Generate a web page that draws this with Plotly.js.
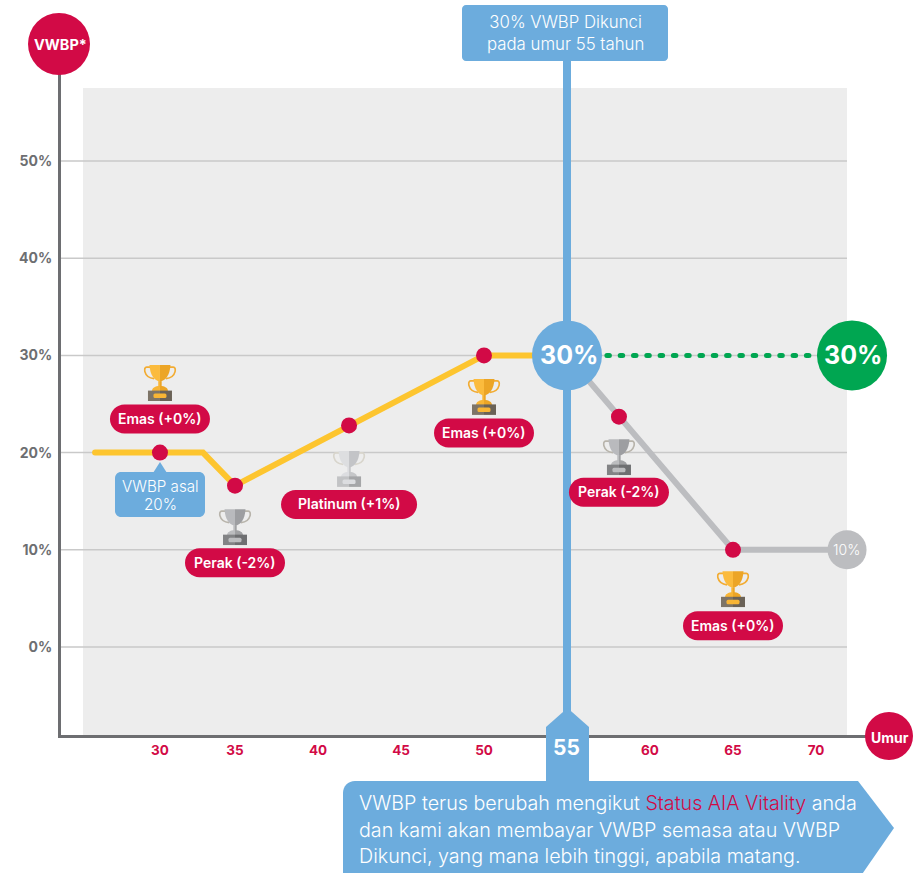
<!DOCTYPE html>
<html><head><meta charset="utf-8">
<script src="https://cdn.plot.ly/plotly-3.0.1.min.js"></script>
<style>html,body{margin:0;padding:0;background:#fff;overflow:hidden}
.scatterlayer .js-line{stroke-linecap:round !important}</style>
</head><body><div id="chart" style="width:922px;height:873px"></div>
<script>
// ---- data ----
const xTickVals   = [30.48, 35, 40, 45, 50, 60, 65, 70];
const xTickLabels = ['30','35','40','45','50','60','65','70'];
const yTickVals   = [0, 10, 20, 30, 40, 50];
const yTickLabels = ['0%','10%','20%','30%','40%','50%'];
const lockedAge   = 55;
const lockedPct   = 30;

const yellowX = [26.57, 30.48, 33.07, 35, 41.87, 50, 55];
const yellowY = [20, 20, 20, 16.6, 22.8, 30, 30];
const greyX   = [55, 58.13, 65, 71.87];
const greyY   = [30, 23.7, 10, 10];
const greenX  = [55, 72.17];
const greenY  = [30, 30];

const statusX = [30.48, 35, 41.87, 50, 58.13, 65];
const statusY = [20, 16.6, 22.8, 30, 23.7, 10];
const statusLabels = ['Emas (+0%)','Perak (-2%)','Platinum (+1%)','Emas (+0%)','Perak (-2%)','Emas (+0%)'];
const statusKinds  = ['gold','silver','platinum','gold','silver','gold'];

// ---- geometry / style ----
const W = 922, H = 873;
const L = 61, R = 870, T = 44, B = 735;
const RED='#d20a46', BLUE='#6cacdd', YEL='#fdc52f', GREY='#bcbdc0', GREEN='#00a651', AX='#6d6e71';
const FONT='Inter, Roboto, sans-serif';
const PX = 16.6, PY = 9.72;
const xRange = [40+(L-318)/PX, 40+(R-318)/PX];
const yRange = [(647-B)/PY, (647-T)/PY];
const px = x => (x-L)/(R-L);
const py = y => (B-y)/(B-T);
const xPix = v => 318+(v-40)*PX;
const yPix = v => 647-v*PY;

function pathOf(pts){
  return pts.map(p=>{
    if(p[0]==='Z') return 'Z';
    if(p[0]==='C') return `C ${px(p[1])} ${py(p[2])} ${px(p[3])} ${py(p[4])} ${px(p[5])} ${py(p[6])}`;
    return `${p[0]} ${px(p[1])} ${py(p[2])}`;
  }).join(' ');
}
function rrect(x0,y0,x1,y1,r){
  const k=r*0.448;
  return pathOf([['M',x0+r,y0],['L',x1-r,y0],['C',x1-k,y0,x1,y0+k,x1,y0+r],['L',x1,y1-r],['C',x1,y1-k,x1-k,y1,x1-r,y1],
    ['L',x0+r,y1],['C',x0+k,y1,x0,y1-k,x0,y1-r],['L',x0,y0+r],['C',x0,y0+k,x0+k,y0,x0+r,y0],['Z']]);
}
const pshape=(path,fill,layer)=>({type:'path',xref:'paper',yref:'paper',path,fillcolor:fill,line:{width:0},layer:layer||'above'});
const circ=(cx,cy,r,fill)=>({type:'circle',xref:'paper',yref:'paper',x0:px(cx-r),x1:px(cx+r),y0:py(cy+r),y1:py(cy-r),fillcolor:fill,line:{width:0},layer:'above'});
const text=(t,x,y,size,color,weight,opt)=>Object.assign({text:t,xref:'paper',yref:'paper',x:px(x),y:py(y),showarrow:false,
  xanchor:'center',yanchor:'middle',font:{family:FONT,size,color,weight},borderpad:0},opt||{});
const dataText=(t,x,y,size,weight,xshift)=>({text:t,xref:'x',yref:'y',x,y,showarrow:false,xanchor:'center',yanchor:'middle',
  xshift:xshift||0,font:{family:FONT,size,color:'#fff',weight},borderpad:0});

function trophySvg(a,b,h,base,plate,stemA,stemB){
  const s=`<svg xmlns="http://www.w3.org/2000/svg" width="66" height="74" viewBox="0 0 33 37">
<path d="M8 3H3.2C1.5 3 .8 5 1.4 7.5 2.4 11.5 6 14 10.5 14.5" fill="none" stroke="${h}" stroke-width="1.7"/>
<path d="M25 3h4.8c1.7 0 2.4 2 1.8 4.5C30.6 11.5 27 14 22.5 14.5" fill="none" stroke="${h}" stroke-width="1.7"/>
<path d="M6 1h10.5v16.5C11 17 6.5 11 6 1z" fill="${a}"/>
<path d="M27 1h-10.5v16.5C22 17 26.5 11 27 1z" fill="${b}"/>
<rect x="14.8" y="17" width="1.7" height="6" fill="${stemA}"/><rect x="16.5" y="17" width="1.7" height="6" fill="${stemB}"/>
<path d="M8.5 27c0-3 3-5 8-5V27z" fill="${stemA}"/><path d="M24.5 27c0-3-3-5-8-5V27z" fill="${stemB}"/>
<rect x="4.5" y="26.5" width="12" height="10.5" fill="${base}"/><rect x="16.5" y="26.5" width="12" height="10.5" fill="${plate}"/>
<rect x="10" y="29.5" width="13" height="4.5" rx="1.5" fill="${stemA}"/>
</svg>`;
  return 'data:image/svg+xml;base64,'+btoa(s);
}
const trophies={
  gold:trophySvg('#fbbb3d','#eca526','#f2ac33','#7d7467','#6a6257','#f8b535','#eca526'),
  silver:trophySvg('#b9babd','#9d9ea1','#b8b4ab','#828385','#6e6f71','#bcbdbf','#a0a1a3'),
  platinum:trophySvg('#dddee0','#c3c4c7','#d8d5cc','#c2c3c5','#a5a6a8','#dcdde0','#c5c6c8')
};

const trophyOffset=[-70,41,43,41,40,39];
const pillOffset  =[-33.5,77,79,77.5,75.5,76];
const pillWidth   =[100,100,136,100,100,100];

const shapes=[];
shapes.push(pshape(rrect(83,88,847,B,0.01),'#ededed','below'));
yTickVals.forEach(v=>shapes.push({type:'line',xref:'paper',yref:'y',x0:0,x1:px(847),y0:v,y1:v,line:{color:'#c9c9c9',width:1.5},layer:'below'}));

const annotations=[], images=[];
statusX.forEach((x,i)=>{
  const cx=xPix(x), cy=yPix(statusY[i]);
  const ty=cy+trophyOffset[i], p0=cy+pillOffset[i], w=pillWidth[i];
  shapes.push(pshape(rrect(cx-w/2,p0-14.5,cx+w/2,p0+14.5,14.5),RED));
  annotations.push(text(statusLabels[i],cx,p0-0.5,14,'#fff',600));
  images.push({source:trophies[statusKinds[i]],xref:'paper',yref:'paper',x:px(cx),y:py(ty),sizex:33/(R-L),sizey:37/(B-T),
    xanchor:'center',yanchor:'middle',sizing:'stretch',layer:'above'});
});

shapes.push(circ(59,44,31,RED));
shapes.push(circ(889,736,24,RED));
annotations.push(text('VWBP*',60,44,14.5,'#fff',700));
annotations.push(text('Umur',889.5,737,14,'#fff',700));

shapes.push(pshape(rrect(462,5,668,61,4),BLUE));
annotations.push(text('30% VWBP Dikunci<br>pada umur 55 tahun',565,33.5,16.8,'#fff',300));

shapes.push(pshape(pathOf([['M',160,462],['L',167,473],['L',153,473],['Z']]),BLUE));
shapes.push(pshape(rrect(115,472,205,517,6),BLUE));
annotations.push(text('VWBP asal',160,486,15.2,'#fff',300));
annotations.push(text('20%',160,504,15.2,'#fff',300));

shapes.push(pshape(pathOf([['M',567.5,708],['L',589,727],['L',589,785],['L',546,785],['L',546,727],['Z']]),BLUE));
annotations.push(Object.assign(text('55',0,747,21,'#fff',700),{xref:'x',x:lockedAge,xshift:-1}));

shapes.push(pshape(pathOf([['M',355,781],['L',858,781],['L',894,828],['L',858,880],['L',343,880],['L',343,793],['C',343,786,348,781,355,781],['Z']]),BLUE));
[['VWBP terus berubah mengikut <span style="color:'+RED+'">Status AIA Vitality</span> anda',803],
 ['dan kami akan membayar VWBP semasa atau VWBP',829.5],
 ['Dikunci, yang mana lebih tinggi, apabila matang.',855.5]].forEach(l=>{
  annotations.push(text(l[0],358,l[1],19.7,'#fff',300,{xanchor:'left',align:'left'}));
});

annotations.push(dataText('30%',lockedAge,lockedPct,25,700,2));
annotations.push(dataText('30%',greenX[1],greenY[1],25,700,1));
annotations.push(dataText('10%',greyX[3],greyY[3],14,300,-1));

const traces=[
  {x:[lockedAge,lockedAge],y:[yRange[1],yRange[0]],mode:'lines',line:{color:BLUE,width:8},hoverinfo:'skip',cliponaxis:false},
  {x:greenX,y:greenY,mode:'lines',line:{color:GREEN,width:5,dash:'2.5px,10.8px'},hoverinfo:'skip'},
  {x:yellowX,y:yellowY,mode:'lines',line:{color:YEL,width:6},hoverinfo:'skip'},
  {x:greyX,y:greyY,mode:'lines',line:{color:GREY,width:6},hoverinfo:'skip'},
  {x:statusX,y:statusY,mode:'markers',marker:{color:RED,size:16,line:{width:0}},hoverinfo:'skip'},
  {x:[lockedAge],y:[lockedPct],mode:'markers',cliponaxis:false,marker:{color:BLUE,size:70,line:{width:0}},hoverinfo:'skip'},
  {x:[greenX[1]],y:[greenY[1]],mode:'markers',cliponaxis:false,marker:{color:GREEN,size:70,line:{width:0}},hoverinfo:'skip'},
  {x:[greyX[3]],y:[greyY[3]],mode:'markers',cliponaxis:false,marker:{color:GREY,size:39,line:{width:0}},hoverinfo:'skip'}
];

const layout={
  width:W,height:H,showlegend:false,paper_bgcolor:'#fff',plot_bgcolor:'#fff',hovermode:false,
  margin:{l:L,r:W-R,t:T,b:H-B,pad:0},
  xaxis:{range:xRange,tickmode:'array',tickvals:xTickVals,ticktext:xTickLabels,showgrid:false,zeroline:false,
    showline:true,linecolor:AX,linewidth:3,ticks:'',ticklabelstandoff:1,
    tickfont:{family:FONT,size:13.5,color:RED,weight:700}},
  yaxis:{range:yRange,tickmode:'array',tickvals:yTickVals,ticktext:yTickLabels,showgrid:false,zeroline:false,
    showline:true,linecolor:AX,linewidth:3,ticks:'',ticklabelstandoff:3,
    tickfont:{family:FONT,size:14,color:AX,weight:700}},
  shapes,annotations,images
};
Plotly.newPlot('chart',traces,layout,{staticPlot:true,displayModeBar:false});
</script></body></html>
